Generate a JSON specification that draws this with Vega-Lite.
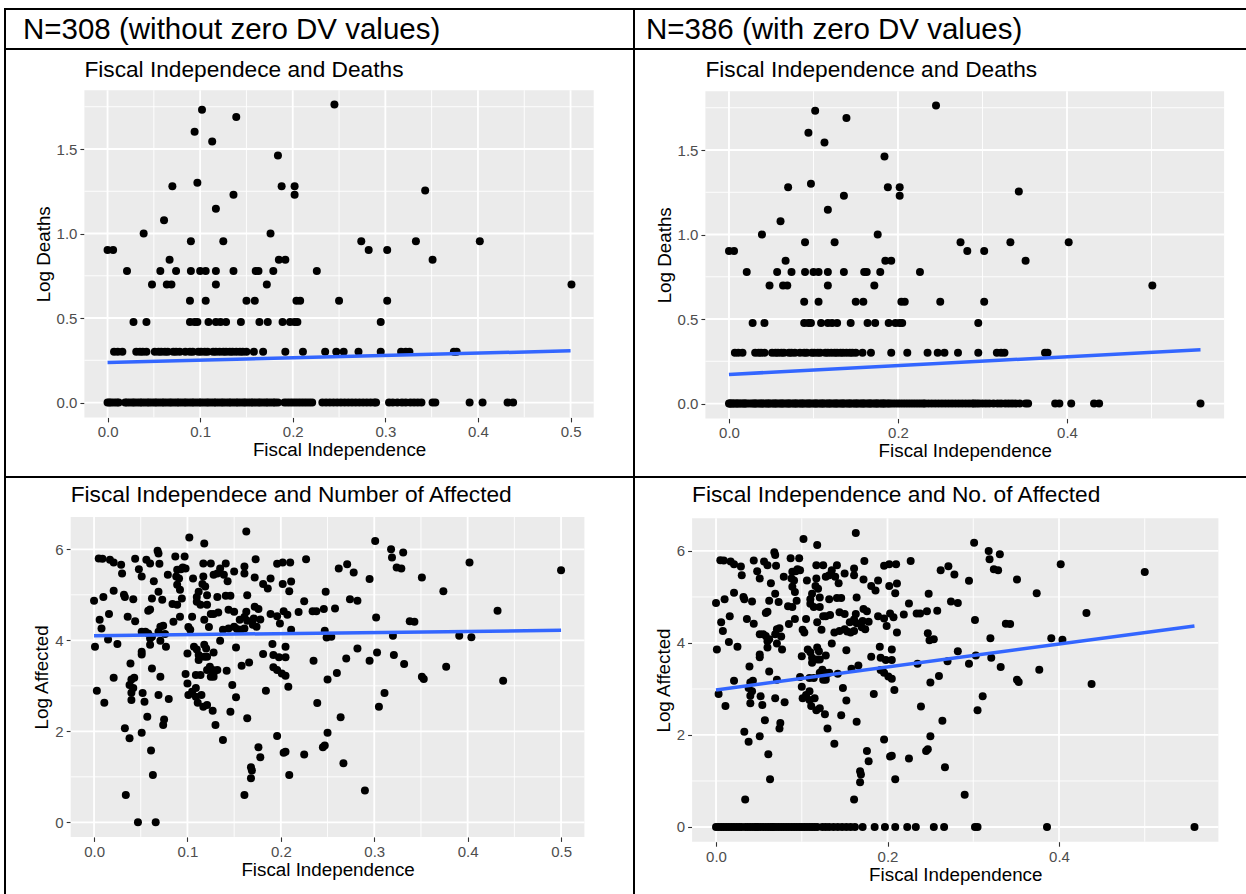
{
"$schema": "https://vega.github.io/schema/vega-lite/v6.json",
"padding": {"left": 4, "top": 8, "right": -3, "bottom": -4},
"background": "white",
"columns": 2,
"spacing": 0,
"bounds": "flush",
"datasets": {
"deaths": [
{"x":0.102,"y":1.732},{"x":0.139,"y":1.690},{"x":0.094,"y":1.602},{"x":0.113,"y":1.544},{"x":0.245,"y":1.763},{"x":0.184,"y":1.462},{"x":0.097,"y":1.301},{"x":0.070,"y":1.279},{"x":0.188,"y":1.279},{"x":0.202,"y":1.279},{"x":0.202,"y":1.230},{"x":0.136,"y":1.230},{"x":0.117,"y":1.146},{"x":0.061,"y":1.079},{"x":0.039,"y":1.0},{"x":0.176,"y":1.0},{"x":0.090,"y":0.954},{"x":0.125,"y":0.954},{"x":0.0,"y":0.903},{"x":0.006,"y":0.903},{"x":0.067,"y":0.845},{"x":0.185,"y":0.845},{"x":0.192,"y":0.845},{"x":0.343,"y":1.255},{"x":0.274,"y":0.954},{"x":0.282,"y":0.903},{"x":0.302,"y":0.903},{"x":0.333,"y":0.954},{"x":0.402,"y":0.954},{"x":0.351,"y":0.845},{"x":0.501,"y":0.699},
{"x":0.021,"y":0.778},{"x":0.057,"y":0.778},{"x":0.074,"y":0.778},{"x":0.090,"y":0.778},{"x":0.100,"y":0.778},{"x":0.106,"y":0.778},{"x":0.117,"y":0.778},{"x":0.136,"y":0.778},{"x":0.160,"y":0.778},{"x":0.163,"y":0.778},{"x":0.179,"y":0.778},{"x":0.226,"y":0.778},
{"x":0.048,"y":0.699},{"x":0.064,"y":0.699},{"x":0.069,"y":0.699},{"x":0.117,"y":0.699},{"x":0.172,"y":0.699},
{"x":0.089,"y":0.602},{"x":0.106,"y":0.602},{"x":0.150,"y":0.602},{"x":0.159,"y":0.602},{"x":0.204,"y":0.602},{"x":0.208,"y":0.602},{"x":0.250,"y":0.602},{"x":0.302,"y":0.602},
{"x":0.028,"y":0.477},{"x":0.042,"y":0.477},{"x":0.089,"y":0.477},{"x":0.094,"y":0.477},{"x":0.097,"y":0.477},{"x":0.109,"y":0.477},{"x":0.117,"y":0.477},{"x":0.122,"y":0.477},{"x":0.128,"y":0.477},{"x":0.144,"y":0.477},{"x":0.164,"y":0.477},{"x":0.173,"y":0.477},{"x":0.189,"y":0.477},{"x":0.197,"y":0.477},{"x":0.202,"y":0.477},{"x":0.205,"y":0.477},{"x":0.295,"y":0.477},
{"x":0.007,"y":0.301},{"x":0.011,"y":0.301},{"x":0.016,"y":0.301},{"x":0.031,"y":0.301},{"x":0.035,"y":0.301},{"x":0.038,"y":0.301},{"x":0.042,"y":0.301},{"x":0.051,"y":0.301},{"x":0.055,"y":0.301},{"x":0.058,"y":0.301},{"x":0.062,"y":0.301},{"x":0.065,"y":0.301},{"x":0.071,"y":0.301},{"x":0.074,"y":0.301},{"x":0.078,"y":0.301},{"x":0.084,"y":0.301},{"x":0.089,"y":0.301},{"x":0.092,"y":0.301},{"x":0.098,"y":0.301},{"x":0.101,"y":0.301},{"x":0.105,"y":0.301},{"x":0.108,"y":0.301},{"x":0.114,"y":0.301},{"x":0.117,"y":0.301},{"x":0.121,"y":0.301},{"x":0.125,"y":0.301},{"x":0.128,"y":0.301},{"x":0.132,"y":0.301},{"x":0.135,"y":0.301},{"x":0.139,"y":0.301},{"x":0.143,"y":0.301},{"x":0.146,"y":0.301},{"x":0.150,"y":0.301},{"x":0.158,"y":0.301},{"x":0.168,"y":0.301},{"x":0.192,"y":0.301},{"x":0.211,"y":0.301},{"x":0.235,"y":0.301},{"x":0.247,"y":0.301},{"x":0.255,"y":0.301},{"x":0.271,"y":0.301},{"x":0.295,"y":0.301},{"x":0.317,"y":0.301},{"x":0.322,"y":0.301},{"x":0.326,"y":0.301},{"x":0.374,"y":0.301},{"x":0.377,"y":0.301},
{"x":0.000,"y":0},{"x":0.002,"y":0},{"x":0.004,"y":0},{"x":0.007,"y":0},{"x":0.010,"y":0},{"x":0.012,"y":0},
{"x":0.019,"y":0},{"x":0.021,"y":0},{"x":0.024,"y":0},{"x":0.027,"y":0},{"x":0.029,"y":0},{"x":0.032,"y":0},{"x":0.035,"y":0},{"x":0.037,"y":0},{"x":0.040,"y":0},{"x":0.043,"y":0},{"x":0.045,"y":0},{"x":0.048,"y":0},{"x":0.051,"y":0},{"x":0.053,"y":0},{"x":0.056,"y":0},{"x":0.059,"y":0},{"x":0.061,"y":0},{"x":0.064,"y":0},{"x":0.067,"y":0},{"x":0.069,"y":0},{"x":0.072,"y":0},{"x":0.075,"y":0},{"x":0.077,"y":0},{"x":0.080,"y":0},{"x":0.083,"y":0},{"x":0.085,"y":0},{"x":0.088,"y":0},{"x":0.091,"y":0},{"x":0.093,"y":0},{"x":0.096,"y":0},{"x":0.099,"y":0},{"x":0.101,"y":0},{"x":0.104,"y":0},{"x":0.107,"y":0},{"x":0.109,"y":0},{"x":0.112,"y":0},{"x":0.115,"y":0},{"x":0.117,"y":0},{"x":0.120,"y":0},{"x":0.123,"y":0},{"x":0.125,"y":0},{"x":0.128,"y":0},{"x":0.131,"y":0},{"x":0.133,"y":0},{"x":0.136,"y":0},{"x":0.139,"y":0},{"x":0.141,"y":0},{"x":0.144,"y":0},{"x":0.147,"y":0},{"x":0.149,"y":0},{"x":0.152,"y":0},{"x":0.155,"y":0},{"x":0.157,"y":0},{"x":0.160,"y":0},{"x":0.163,"y":0},{"x":0.165,"y":0},{"x":0.168,"y":0},{"x":0.171,"y":0},{"x":0.173,"y":0},{"x":0.176,"y":0},{"x":0.179,"y":0},{"x":0.181,"y":0},{"x":0.184,"y":0},
{"x":0.191,"y":0},{"x":0.194,"y":0},{"x":0.197,"y":0},{"x":0.200,"y":0},{"x":0.203,"y":0},{"x":0.206,"y":0},{"x":0.209,"y":0},{"x":0.212,"y":0},{"x":0.215,"y":0},{"x":0.218,"y":0},{"x":0.221,"y":0},
{"x":0.232,"y":0},{"x":0.236,"y":0},{"x":0.240,"y":0},{"x":0.244,"y":0},{"x":0.248,"y":0},{"x":0.252,"y":0},{"x":0.256,"y":0},{"x":0.260,"y":0},{"x":0.264,"y":0},{"x":0.268,"y":0},{"x":0.272,"y":0},{"x":0.276,"y":0},{"x":0.280,"y":0},{"x":0.284,"y":0},{"x":0.288,"y":0},{"x":0.290,"y":0},
{"x":0.304,"y":0},{"x":0.308,"y":0},{"x":0.313,"y":0},{"x":0.318,"y":0},{"x":0.322,"y":0},{"x":0.327,"y":0},{"x":0.331,"y":0},{"x":0.335,"y":0},{"x":0.339,"y":0},
{"x":0.351,"y":0},{"x":0.354,"y":0},{"x":0.391,"y":0},{"x":0.405,"y":0},{"x":0.432,"y":0},{"x":0.438,"y":0},
{"x":0.001,"y":0,"r":1},{"x":0.005,"y":0,"r":1},{"x":0.009,"y":0,"r":1},{"x":0.014,"y":0,"r":1},{"x":0.016,"y":0,"r":1},{"x":0.018,"y":0,"r":1},{"x":0.031,"y":0,"r":1},{"x":0.039,"y":0,"r":1},{"x":0.047,"y":0,"r":1},{"x":0.055,"y":0,"r":1},{"x":0.063,"y":0,"r":1},{"x":0.071,"y":0,"r":1},{"x":0.079,"y":0,"r":1},{"x":0.087,"y":0,"r":1},{"x":0.095,"y":0,"r":1},{"x":0.103,"y":0,"r":1},{"x":0.111,"y":0,"r":1},{"x":0.119,"y":0,"r":1},{"x":0.127,"y":0,"r":1},{"x":0.135,"y":0,"r":1},{"x":0.143,"y":0,"r":1},{"x":0.151,"y":0,"r":1},{"x":0.159,"y":0,"r":1},{"x":0.167,"y":0,"r":1},{"x":0.175,"y":0,"r":1},{"x":0.183,"y":0,"r":1},{"x":0.187,"y":0,"r":1},{"x":0.189,"y":0,"r":1},{"x":0.224,"y":0,"r":1},{"x":0.227,"y":0,"r":1},{"x":0.230,"y":0,"r":1},{"x":0.293,"y":0,"r":1},{"x":0.296,"y":0,"r":1},{"x":0.300,"y":0,"r":1},{"x":0.344,"y":0,"r":1},{"x":0.386,"y":0,"r":1},{"x":0.558,"y":0,"r":1}
],
"affected": [
{"x":0.163,"y":6.39},{"x":0.102,"y":6.26},{"x":0.118,"y":6.13},{"x":0.068,"y":5.97},{"x":0.069,"y":5.91},{"x":0.005,"y":5.80},{"x":0.009,"y":5.79},{"x":0.044,"y":5.79},{"x":0.017,"y":5.77},{"x":0.021,"y":5.71},{"x":0.029,"y":5.66},{"x":0.030,"y":5.47},{"x":0.056,"y":5.77},{"x":0.060,"y":5.69},{"x":0.048,"y":5.56},{"x":0.051,"y":5.40},{"x":0.070,"y":5.68},{"x":0.087,"y":5.84},{"x":0.097,"y":5.84},{"x":0.064,"y":5.30},{"x":0.079,"y":5.44},{"x":0.089,"y":5.55},{"x":0.093,"y":5.56},{"x":0.095,"y":5.60},{"x":0.098,"y":5.58},{"x":0.088,"y":5.40},{"x":0.091,"y":5.36},{"x":0.089,"y":5.22},{"x":0.092,"y":5.11},{"x":0.106,"y":5.36},{"x":0.117,"y":5.69},{"x":0.125,"y":5.69},{"x":0.117,"y":5.40},{"x":0.119,"y":5.18},{"x":0.116,"y":5.24},{"x":0.128,"y":5.44},{"x":0.132,"y":5.47},{"x":0.135,"y":5.58},{"x":0.141,"y":5.69},{"x":0.143,"y":5.30},{"x":0.139,"y":5.44},{"x":0.150,"y":5.51},{"x":0.161,"y":5.62},{"x":0.161,"y":5.47},{"x":0.173,"y":5.78},{"x":0.172,"y":5.38},{"x":0.181,"y":5.24},{"x":0.186,"y":5.14},{"x":0.189,"y":5.36},{"x":0.196,"y":5.68},{"x":0.202,"y":5.71},{"x":0.210,"y":5.71},{"x":0.202,"y":5.24},{"x":0.211,"y":5.29},{"x":0.227,"y":5.78},{"x":0.225,"y":4.86},{"x":0.209,"y":5.08},{"x":0.248,"y":5.07},
{"x":0.000,"y":4.87},{"x":0.010,"y":4.95},{"x":0.021,"y":5.09},{"x":0.032,"y":5.00},{"x":0.033,"y":4.95},{"x":0.042,"y":4.90},{"x":0.062,"y":4.92},{"x":0.073,"y":4.89},{"x":0.060,"y":4.68},{"x":0.058,"y":4.65},{"x":0.069,"y":5.07},{"x":0.084,"y":4.80},{"x":0.089,"y":4.78},{"x":0.094,"y":4.92},{"x":0.110,"y":4.95},{"x":0.112,"y":5.07},{"x":0.121,"y":4.99},{"x":0.121,"y":4.78},{"x":0.132,"y":4.95},{"x":0.141,"y":4.98},{"x":0.146,"y":4.98},{"x":0.164,"y":4.99},{"x":0.110,"y":4.85},{"x":0.114,"y":4.78},{"x":0.125,"y":4.58},{"x":0.128,"y":4.58},{"x":0.133,"y":4.61},{"x":0.144,"y":4.67},{"x":0.150,"y":4.63},{"x":0.163,"y":4.63},{"x":0.172,"y":4.74},{"x":0.176,"y":4.69},{"x":0.161,"y":4.51},{"x":0.164,"y":4.43},{"x":0.171,"y":4.48},{"x":0.178,"y":4.46},{"x":0.189,"y":4.58},{"x":0.196,"y":4.53},{"x":0.203,"y":4.64},{"x":0.207,"y":4.56},{"x":0.199,"y":4.37},{"x":0.219,"y":4.62},{"x":0.234,"y":4.64},{"x":0.238,"y":4.64},{"x":0.246,"y":4.69},{"x":0.211,"y":4.23},
{"x":0.016,"y":4.58},{"x":0.006,"y":4.45},{"x":0.008,"y":4.26},{"x":0.036,"y":4.52},{"x":0.044,"y":4.42},{"x":0.051,"y":4.19},{"x":0.055,"y":4.19},{"x":0.058,"y":4.15},{"x":0.071,"y":4.30},{"x":0.074,"y":4.32},{"x":0.069,"y":4.19},{"x":0.076,"y":4.14},{"x":0.062,"y":4.08},{"x":0.085,"y":4.41},{"x":0.092,"y":4.52},{"x":0.101,"y":4.29},{"x":0.103,"y":4.23},{"x":0.105,"y":4.52},{"x":0.118,"y":4.45},{"x":0.123,"y":4.29},{"x":0.138,"y":4.23},{"x":0.144,"y":4.26},{"x":0.150,"y":4.30},{"x":0.153,"y":4.25},{"x":0.157,"y":4.23},{"x":0.161,"y":4.26},{"x":0.170,"y":4.34},{"x":0.174,"y":4.30},{"x":0.156,"y":4.45},
{"x":0.001,"y":3.86},{"x":0.015,"y":4.02},{"x":0.025,"y":3.92},{"x":0.060,"y":3.90},{"x":0.060,"y":4.04},{"x":0.071,"y":3.99},{"x":0.077,"y":3.86},{"x":0.100,"y":3.71},{"x":0.107,"y":3.86},{"x":0.110,"y":3.80},{"x":0.118,"y":3.90},{"x":0.120,"y":3.82},{"x":0.112,"y":3.68},{"x":0.112,"y":3.57},{"x":0.118,"y":3.64},{"x":0.121,"y":3.64},{"x":0.128,"y":3.73},{"x":0.135,"y":3.99},{"x":0.152,"y":3.84},{"x":0.191,"y":3.92},{"x":0.192,"y":3.68},{"x":0.198,"y":3.63},{"x":0.205,"y":3.86},{"x":0.205,"y":3.63},{"x":0.181,"y":3.70},{"x":0.235,"y":3.55},{"x":0.249,"y":4.06},
{"x":0.039,"y":3.49},{"x":0.051,"y":3.75},{"x":0.051,"y":3.69},{"x":0.062,"y":3.38},{"x":0.021,"y":3.18},{"x":0.040,"y":3.14},{"x":0.043,"y":3.18},{"x":0.038,"y":3.02},{"x":0.042,"y":2.95},{"x":0.040,"y":2.85},{"x":0.040,"y":2.69},{"x":0.052,"y":2.84},{"x":0.054,"y":2.65},{"x":0.071,"y":3.20},{"x":0.069,"y":2.80},{"x":0.080,"y":2.71},{"x":0.003,"y":2.89},{"x":0.011,"y":2.63},{"x":0.057,"y":2.32},{"x":0.075,"y":2.26},{"x":0.074,"y":2.14},{"x":0.033,"y":2.07},{"x":0.038,"y":1.85},{"x":0.051,"y":1.97},{"x":0.061,"y":1.58},{"x":0.063,"y":1.04},{"x":0.034,"y":0.60},{"x":0.047,"y":0.0},{"x":0.066,"y":0.0},
{"x":0.098,"y":3.26},{"x":0.100,"y":3.05},{"x":0.101,"y":2.80},{"x":0.105,"y":2.87},{"x":0.109,"y":2.95},{"x":0.109,"y":2.76},{"x":0.111,"y":2.63},{"x":0.115,"y":2.80},{"x":0.117,"y":2.54},{"x":0.121,"y":2.58},{"x":0.109,"y":3.24},{"x":0.114,"y":3.24},{"x":0.121,"y":3.35},{"x":0.124,"y":3.42},{"x":0.127,"y":3.35},{"x":0.128,"y":3.28},{"x":0.132,"y":3.35},{"x":0.128,"y":3.20},{"x":0.125,"y":3.20},{"x":0.142,"y":3.33},{"x":0.148,"y":3.02},{"x":0.152,"y":2.75},{"x":0.146,"y":2.43},{"x":0.127,"y":2.45},{"x":0.130,"y":2.14},{"x":0.138,"y":1.81},{"x":0.164,"y":2.29},{"x":0.158,"y":3.44},{"x":0.166,"y":3.51},{"x":0.184,"y":2.89},{"x":0.192,"y":3.41},{"x":0.196,"y":3.35},{"x":0.201,"y":3.27},{"x":0.205,"y":3.22},{"x":0.208,"y":2.98},{"x":0.196,"y":1.90},{"x":0.203,"y":1.53},{"x":0.205,"y":1.55},{"x":0.209,"y":1.04},{"x":0.176,"y":1.65},{"x":0.178,"y":1.43},{"x":0.168,"y":1.21},{"x":0.169,"y":1.14},{"x":0.168,"y":0.97},{"x":0.161,"y":0.60},{"x":0.225,"y":1.49},{"x":0.245,"y":1.65},{"x":0.247,"y":1.69},{"x":0.250,"y":1.97},{"x":0.239,"y":2.62},{"x":0.250,"y":3.14},
{"x":0.301,"y":6.18},{"x":0.318,"y":6.00},{"x":0.319,"y":5.82},{"x":0.331,"y":5.93},{"x":0.324,"y":5.60},{"x":0.329,"y":5.58},{"x":0.402,"y":5.71},{"x":0.500,"y":5.54},{"x":0.262,"y":5.58},{"x":0.271,"y":5.67},{"x":0.278,"y":5.49},{"x":0.295,"y":5.35},{"x":0.351,"y":5.38},{"x":0.374,"y":5.08},{"x":0.274,"y":4.90},{"x":0.282,"y":4.87},{"x":0.258,"y":4.70},{"x":0.302,"y":4.50},{"x":0.338,"y":4.42},{"x":0.343,"y":4.41},{"x":0.432,"y":4.65},{"x":0.247,"y":4.21},{"x":0.254,"y":4.08},{"x":0.320,"y":4.10},{"x":0.391,"y":4.10},{"x":0.404,"y":4.07},{"x":0.282,"y":3.82},{"x":0.270,"y":3.60},{"x":0.303,"y":3.73},{"x":0.295,"y":3.55},{"x":0.321,"y":3.68},{"x":0.332,"y":3.48},{"x":0.377,"y":3.42},{"x":0.260,"y":3.28},{"x":0.351,"y":3.20},{"x":0.353,"y":3.15},{"x":0.438,"y":3.11},{"x":0.311,"y":2.84},{"x":0.305,"y":2.54},{"x":0.264,"y":2.31},{"x":0.267,"y":1.30},{"x":0.290,"y":0.70},
{"x":0.000,"y":0,"r":1},{"x":0.003,"y":0,"r":1},{"x":0.006,"y":0,"r":1},{"x":0.009,"y":0,"r":1},{"x":0.012,"y":0,"r":1},{"x":0.015,"y":0,"r":1},{"x":0.018,"y":0,"r":1},{"x":0.021,"y":0,"r":1},{"x":0.024,"y":0,"r":1},{"x":0.027,"y":0,"r":1},{"x":0.030,"y":0,"r":1},{"x":0.034,"y":0,"r":1},{"x":0.037,"y":0,"r":1},{"x":0.040,"y":0,"r":1},{"x":0.043,"y":0,"r":1},{"x":0.046,"y":0,"r":1},{"x":0.049,"y":0,"r":1},{"x":0.052,"y":0,"r":1},{"x":0.055,"y":0,"r":1},{"x":0.058,"y":0,"r":1},{"x":0.061,"y":0,"r":1},{"x":0.064,"y":0,"r":1},{"x":0.067,"y":0,"r":1},{"x":0.070,"y":0,"r":1},{"x":0.073,"y":0,"r":1},{"x":0.076,"y":0,"r":1},{"x":0.079,"y":0,"r":1},{"x":0.082,"y":0,"r":1},{"x":0.085,"y":0,"r":1},{"x":0.088,"y":0,"r":1},{"x":0.091,"y":0,"r":1},{"x":0.094,"y":0,"r":1},{"x":0.097,"y":0,"r":1},{"x":0.100,"y":0,"r":1},{"x":0.103,"y":0,"r":1},{"x":0.106,"y":0,"r":1},{"x":0.109,"y":0,"r":1},{"x":0.112,"y":0,"r":1},{"x":0.115,"y":0,"r":1},{"x":0.118,"y":0,"r":1},{"x":0.124,"y":0,"r":1},{"x":0.128,"y":0,"r":1},{"x":0.132,"y":0,"r":1},{"x":0.137,"y":0,"r":1},{"x":0.142,"y":0,"r":1},{"x":0.147,"y":0,"r":1},{"x":0.152,"y":0,"r":1},{"x":0.157,"y":0,"r":1},{"x":0.162,"y":0,"r":1},{"x":0.171,"y":0,"r":1},{"x":0.185,"y":0,"r":1},{"x":0.197,"y":0,"r":1},{"x":0.209,"y":0,"r":1},{"x":0.223,"y":0,"r":1},{"x":0.233,"y":0,"r":1},{"x":0.254,"y":0,"r":1},{"x":0.266,"y":0,"r":1},{"x":0.302,"y":0,"r":1},{"x":0.305,"y":0,"r":1},{"x":0.386,"y":0,"r":1},{"x":0.558,"y":0,"r":1}
]
},
"concat": [
{"width": 629, "height": 40, "data": {"values": []}, "mark": {"type": "point"},
 "encoding": {"x": {"field": "a", "type": "quantitative", "axis": null, "scale": {"domain": [0, 1]}}, "y": {"field": "b", "type": "quantitative", "axis": null, "scale": {"domain": [0, 1]}}},
 "title": {"text": "N=308 (without zero DV values)", "fontSize": 29.5, "dx": 18, "offset": -36}},
{"width": 614, "height": 40, "data": {"values": []}, "mark": {"type": "point"},
 "encoding": {"x": {"field": "a", "type": "quantitative", "axis": null, "scale": {"domain": [0, 1]}}, "y": {"field": "b", "type": "quantitative", "axis": null, "scale": {"domain": [0, 1]}}},
 "title": {"text": "N=386 (with zero DV values)", "fontSize": 29.5, "dx": 12, "offset": -36}},
{"width": 629, "height": 428,
 "title": {"text": "Fiscal Independece and Deaths", "dx": 79.4, "offset": -33},
 "layer": [
  {"data": {"values": [{}]}, "mark": {"type": "rect", "color": "#EBEBEB"},
   "encoding": {"x": {"datum": -0.025, "type": "quantitative", "scale": {"domain": [-0.025, 0.525], "range": [79.4, 588.7], "nice": false, "zero": false}, "axis": {"values": [0, 0.1, 0.2, 0.3, 0.4, 0.5], "format": ".1f", "title": "Fiscal Independence", "orient": "bottom", "offset": -59.6}}, "x2": {"datum": 0.525},
    "y": {"datum": -0.088, "type": "quantitative", "scale": {"domain": [-0.088, 1.848], "range": [368.4, 41.2], "nice": false, "zero": false}, "axis": {"values": [0, 0.5, 1, 1.5], "format": ".1f", "title": "Log Deaths", "orient": "left", "offset": -79.4}}, "y2": {"datum": 1.848}}},
  {"data": {"values": [{"v":0.05},{"v":0.15},{"v":0.25},{"v":0.35},{"v":0.45}]}, "mark": {"type": "rule", "color": "white", "strokeWidth": 0.9},
   "encoding": {"x": {"field": "v", "type": "quantitative", "scale": {"domain": [-0.025, 0.525], "range": [79.4, 588.7], "nice": false, "zero": false}, "axis": {"values": [0, 0.1, 0.2, 0.3, 0.4, 0.5], "format": ".1f", "title": "Fiscal Independence", "orient": "bottom", "offset": -59.6}},
    "y": {"datum": -0.088, "type": "quantitative", "scale": {"domain": [-0.088, 1.848], "range": [368.4, 41.2], "nice": false, "zero": false}, "axis": {"values": [0, 0.5, 1, 1.5], "format": ".1f", "title": "Log Deaths", "orient": "left", "offset": -79.4}}, "y2": {"datum": 1.848}}},
  {"data": {"values": [{"v":0},{"v":0.1},{"v":0.2},{"v":0.3},{"v":0.4},{"v":0.5}]}, "mark": {"type": "rule", "color": "white", "strokeWidth": 1.8},
   "encoding": {"x": {"field": "v", "type": "quantitative", "scale": {"domain": [-0.025, 0.525], "range": [79.4, 588.7], "nice": false, "zero": false}, "axis": {"values": [0, 0.1, 0.2, 0.3, 0.4, 0.5], "format": ".1f", "title": "Fiscal Independence", "orient": "bottom", "offset": -59.6}},
    "y": {"datum": -0.088, "type": "quantitative", "scale": {"domain": [-0.088, 1.848], "range": [368.4, 41.2], "nice": false, "zero": false}, "axis": {"values": [0, 0.5, 1, 1.5], "format": ".1f", "title": "Log Deaths", "orient": "left", "offset": -79.4}}, "y2": {"datum": 1.848}}},
  {"data": {"values": [{"v":0.25},{"v":0.75},{"v":1.25},{"v":1.75}]}, "mark": {"type": "rule", "color": "white", "strokeWidth": 0.9},
   "encoding": {"y": {"field": "v", "type": "quantitative", "scale": {"domain": [-0.088, 1.848], "range": [368.4, 41.2], "nice": false, "zero": false}, "axis": {"values": [0, 0.5, 1, 1.5], "format": ".1f", "title": "Log Deaths", "orient": "left", "offset": -79.4}},
    "x": {"datum": -0.025, "type": "quantitative", "scale": {"domain": [-0.025, 0.525], "range": [79.4, 588.7], "nice": false, "zero": false}, "axis": {"values": [0, 0.1, 0.2, 0.3, 0.4, 0.5], "format": ".1f", "title": "Fiscal Independence", "orient": "bottom", "offset": -59.6}}, "x2": {"datum": 0.525}}},
  {"data": {"values": [{"v":0},{"v":0.5},{"v":1},{"v":1.5}]}, "mark": {"type": "rule", "color": "white", "strokeWidth": 1.8},
   "encoding": {"y": {"field": "v", "type": "quantitative", "scale": {"domain": [-0.088, 1.848], "range": [368.4, 41.2], "nice": false, "zero": false}, "axis": {"values": [0, 0.5, 1, 1.5], "format": ".1f", "title": "Log Deaths", "orient": "left", "offset": -79.4}},
    "x": {"datum": -0.025, "type": "quantitative", "scale": {"domain": [-0.025, 0.525], "range": [79.4, 588.7], "nice": false, "zero": false}, "axis": {"values": [0, 0.1, 0.2, 0.3, 0.4, 0.5], "format": ".1f", "title": "Fiscal Independence", "orient": "bottom", "offset": -59.6}}, "x2": {"datum": 0.525}}},
  {"data": {"name": "deaths"}, "transform": [{"filter": "!datum.r"}], "mark": {"type": "circle", "size": 64, "color": "black", "opacity": 1},
   "encoding": {"x": {"field": "x", "type": "quantitative", "scale": {"domain": [-0.025, 0.525], "range": [79.4, 588.7], "nice": false, "zero": false}, "axis": {"values": [0, 0.1, 0.2, 0.3, 0.4, 0.5], "format": ".1f", "title": "Fiscal Independence", "orient": "bottom", "offset": -59.6}},
    "y": {"field": "y", "type": "quantitative", "scale": {"domain": [-0.088, 1.848], "range": [368.4, 41.2], "nice": false, "zero": false}, "axis": {"values": [0, 0.5, 1, 1.5], "format": ".1f", "title": "Log Deaths", "orient": "left", "offset": -79.4}}}},
  {"data": {"values": [{"x":0,"y":0.237},{"x":0.5,"y":0.306}]}, "mark": {"type": "line", "color": "#3366FF", "strokeWidth": 3.5},
   "encoding": {"x": {"field": "x", "type": "quantitative", "scale": {"domain": [-0.025, 0.525], "range": [79.4, 588.7], "nice": false, "zero": false}, "axis": {"values": [0, 0.1, 0.2, 0.3, 0.4, 0.5], "format": ".1f", "title": "Fiscal Independence", "orient": "bottom", "offset": -59.6}},
    "y": {"field": "y", "type": "quantitative", "scale": {"domain": [-0.088, 1.848], "range": [368.4, 41.2], "nice": false, "zero": false}, "axis": {"values": [0, 0.5, 1, 1.5], "format": ".1f", "title": "Log Deaths", "orient": "left", "offset": -79.4}}}}
 ]},
{"width": 614, "height": 428,
 "title": {"text": "Fiscal Independence and Deaths", "dx": 71.4, "offset": -33},
 "layer": [
  {"data": {"values": [{}]}, "mark": {"type": "rect", "color": "#EBEBEB"},
   "encoding": {"x": {"datum": -0.0279, "type": "quantitative", "scale": {"domain": [-0.0279, 0.5859], "range": [71.4, 590.1], "nice": false, "zero": false}, "axis": {"values": [0, 0.2, 0.4], "format": ".1f", "title": "Fiscal Independence", "orient": "bottom", "offset": -58.6}}, "x2": {"datum": 0.5859},
    "y": {"datum": -0.088, "type": "quantitative", "scale": {"domain": [-0.088, 1.848], "range": [369.4, 42.2], "nice": false, "zero": false}, "axis": {"values": [0, 0.5, 1, 1.5], "format": ".1f", "title": "Log Deaths", "orient": "left", "offset": -71.4}}, "y2": {"datum": 1.848}}},
  {"data": {"values": [{"v":0.1},{"v":0.3},{"v":0.5}]}, "mark": {"type": "rule", "color": "white", "strokeWidth": 0.9},
   "encoding": {"x": {"field": "v", "type": "quantitative", "scale": {"domain": [-0.0279, 0.5859], "range": [71.4, 590.1], "nice": false, "zero": false}, "axis": {"values": [0, 0.2, 0.4], "format": ".1f", "title": "Fiscal Independence", "orient": "bottom", "offset": -58.6}},
    "y": {"datum": -0.088, "type": "quantitative", "scale": {"domain": [-0.088, 1.848], "range": [369.4, 42.2], "nice": false, "zero": false}, "axis": {"values": [0, 0.5, 1, 1.5], "format": ".1f", "title": "Log Deaths", "orient": "left", "offset": -71.4}}, "y2": {"datum": 1.848}}},
  {"data": {"values": [{"v":0},{"v":0.2},{"v":0.4}]}, "mark": {"type": "rule", "color": "white", "strokeWidth": 1.8},
   "encoding": {"x": {"field": "v", "type": "quantitative", "scale": {"domain": [-0.0279, 0.5859], "range": [71.4, 590.1], "nice": false, "zero": false}, "axis": {"values": [0, 0.2, 0.4], "format": ".1f", "title": "Fiscal Independence", "orient": "bottom", "offset": -58.6}},
    "y": {"datum": -0.088, "type": "quantitative", "scale": {"domain": [-0.088, 1.848], "range": [369.4, 42.2], "nice": false, "zero": false}, "axis": {"values": [0, 0.5, 1, 1.5], "format": ".1f", "title": "Log Deaths", "orient": "left", "offset": -71.4}}, "y2": {"datum": 1.848}}},
  {"data": {"values": [{"v":0.25},{"v":0.75},{"v":1.25},{"v":1.75}]}, "mark": {"type": "rule", "color": "white", "strokeWidth": 0.9},
   "encoding": {"y": {"field": "v", "type": "quantitative", "scale": {"domain": [-0.088, 1.848], "range": [369.4, 42.2], "nice": false, "zero": false}, "axis": {"values": [0, 0.5, 1, 1.5], "format": ".1f", "title": "Log Deaths", "orient": "left", "offset": -71.4}},
    "x": {"datum": -0.0279, "type": "quantitative", "scale": {"domain": [-0.0279, 0.5859], "range": [71.4, 590.1], "nice": false, "zero": false}, "axis": {"values": [0, 0.2, 0.4], "format": ".1f", "title": "Fiscal Independence", "orient": "bottom", "offset": -58.6}}, "x2": {"datum": 0.5859}}},
  {"data": {"values": [{"v":0},{"v":0.5},{"v":1},{"v":1.5}]}, "mark": {"type": "rule", "color": "white", "strokeWidth": 1.8},
   "encoding": {"y": {"field": "v", "type": "quantitative", "scale": {"domain": [-0.088, 1.848], "range": [369.4, 42.2], "nice": false, "zero": false}, "axis": {"values": [0, 0.5, 1, 1.5], "format": ".1f", "title": "Log Deaths", "orient": "left", "offset": -71.4}},
    "x": {"datum": -0.0279, "type": "quantitative", "scale": {"domain": [-0.0279, 0.5859], "range": [71.4, 590.1], "nice": false, "zero": false}, "axis": {"values": [0, 0.2, 0.4], "format": ".1f", "title": "Fiscal Independence", "orient": "bottom", "offset": -58.6}}, "x2": {"datum": 0.5859}}},
  {"data": {"name": "deaths"}, "mark": {"type": "circle", "size": 64, "color": "black", "opacity": 1},
   "encoding": {"x": {"field": "x", "type": "quantitative", "scale": {"domain": [-0.0279, 0.5859], "range": [71.4, 590.1], "nice": false, "zero": false}, "axis": {"values": [0, 0.2, 0.4], "format": ".1f", "title": "Fiscal Independence", "orient": "bottom", "offset": -58.6}},
    "y": {"field": "y", "type": "quantitative", "scale": {"domain": [-0.088, 1.848], "range": [369.4, 42.2], "nice": false, "zero": false}, "axis": {"values": [0, 0.5, 1, 1.5], "format": ".1f", "title": "Log Deaths", "orient": "left", "offset": -71.4}}}},
  {"data": {"values": [{"x":0,"y":0.172},{"x":0.558,"y":0.318}]}, "mark": {"type": "line", "color": "#3366FF", "strokeWidth": 3.5},
   "encoding": {"x": {"field": "x", "type": "quantitative", "scale": {"domain": [-0.0279, 0.5859], "range": [71.4, 590.1], "nice": false, "zero": false}, "axis": {"values": [0, 0.2, 0.4], "format": ".1f", "title": "Fiscal Independence", "orient": "bottom", "offset": -58.6}},
    "y": {"field": "y", "type": "quantitative", "scale": {"domain": [-0.088, 1.848], "range": [369.4, 42.2], "nice": false, "zero": false}, "axis": {"values": [0, 0.5, 1, 1.5], "format": ".1f", "title": "Log Deaths", "orient": "left", "offset": -71.4}}}}
 ]},
{"width": 629, "height": 420,
 "title": {"text": "Fiscal Independece and Number of Affected", "dx": 65.7, "offset": -30},
 "layer": [
  {"data": {"values": [{}]}, "mark": {"type": "rect", "color": "#EBEBEB"},
   "encoding": {"x": {"datum": -0.025, "type": "quantitative", "scale": {"domain": [-0.025, 0.525], "range": [65.7, 579.4], "nice": false, "zero": false}, "axis": {"values": [0, 0.1, 0.2, 0.3, 0.4, 0.5], "format": ".1f", "title": "Fiscal Independence", "orient": "bottom", "offset": -60.1}}, "x2": {"datum": 0.525},
    "y": {"datum": -0.32, "type": "quantitative", "scale": {"domain": [-0.32, 6.71], "range": [359.9, 40.0], "nice": false, "zero": false}, "axis": {"values": [0, 2, 4, 6], "format": "d", "title": "Log Affected", "orient": "left", "offset": -65.7}}, "y2": {"datum": 6.71}}},
  {"data": {"values": [{"v":0.05},{"v":0.15},{"v":0.25},{"v":0.35},{"v":0.45}]}, "mark": {"type": "rule", "color": "white", "strokeWidth": 0.9},
   "encoding": {"x": {"field": "v", "type": "quantitative", "scale": {"domain": [-0.025, 0.525], "range": [65.7, 579.4], "nice": false, "zero": false}, "axis": {"values": [0, 0.1, 0.2, 0.3, 0.4, 0.5], "format": ".1f", "title": "Fiscal Independence", "orient": "bottom", "offset": -60.1}},
    "y": {"datum": -0.32, "type": "quantitative", "scale": {"domain": [-0.32, 6.71], "range": [359.9, 40.0], "nice": false, "zero": false}, "axis": {"values": [0, 2, 4, 6], "format": "d", "title": "Log Affected", "orient": "left", "offset": -65.7}}, "y2": {"datum": 6.71}}},
  {"data": {"values": [{"v":0},{"v":0.1},{"v":0.2},{"v":0.3},{"v":0.4},{"v":0.5}]}, "mark": {"type": "rule", "color": "white", "strokeWidth": 1.8},
   "encoding": {"x": {"field": "v", "type": "quantitative", "scale": {"domain": [-0.025, 0.525], "range": [65.7, 579.4], "nice": false, "zero": false}, "axis": {"values": [0, 0.1, 0.2, 0.3, 0.4, 0.5], "format": ".1f", "title": "Fiscal Independence", "orient": "bottom", "offset": -60.1}},
    "y": {"datum": -0.32, "type": "quantitative", "scale": {"domain": [-0.32, 6.71], "range": [359.9, 40.0], "nice": false, "zero": false}, "axis": {"values": [0, 2, 4, 6], "format": "d", "title": "Log Affected", "orient": "left", "offset": -65.7}}, "y2": {"datum": 6.71}}},
  {"data": {"values": [{"v":1},{"v":3},{"v":5}]}, "mark": {"type": "rule", "color": "white", "strokeWidth": 0.9},
   "encoding": {"y": {"field": "v", "type": "quantitative", "scale": {"domain": [-0.32, 6.71], "range": [359.9, 40.0], "nice": false, "zero": false}, "axis": {"values": [0, 2, 4, 6], "format": "d", "title": "Log Affected", "orient": "left", "offset": -65.7}},
    "x": {"datum": -0.025, "type": "quantitative", "scale": {"domain": [-0.025, 0.525], "range": [65.7, 579.4], "nice": false, "zero": false}, "axis": {"values": [0, 0.1, 0.2, 0.3, 0.4, 0.5], "format": ".1f", "title": "Fiscal Independence", "orient": "bottom", "offset": -60.1}}, "x2": {"datum": 0.525}}},
  {"data": {"values": [{"v":0},{"v":2},{"v":4},{"v":6}]}, "mark": {"type": "rule", "color": "white", "strokeWidth": 1.8},
   "encoding": {"y": {"field": "v", "type": "quantitative", "scale": {"domain": [-0.32, 6.71], "range": [359.9, 40.0], "nice": false, "zero": false}, "axis": {"values": [0, 2, 4, 6], "format": "d", "title": "Log Affected", "orient": "left", "offset": -65.7}},
    "x": {"datum": -0.025, "type": "quantitative", "scale": {"domain": [-0.025, 0.525], "range": [65.7, 579.4], "nice": false, "zero": false}, "axis": {"values": [0, 0.1, 0.2, 0.3, 0.4, 0.5], "format": ".1f", "title": "Fiscal Independence", "orient": "bottom", "offset": -60.1}}, "x2": {"datum": 0.525}}},
  {"data": {"name": "affected"}, "transform": [{"filter": "!datum.r"}], "mark": {"type": "circle", "size": 64, "color": "black", "opacity": 1},
   "encoding": {"x": {"field": "x", "type": "quantitative", "scale": {"domain": [-0.025, 0.525], "range": [65.7, 579.4], "nice": false, "zero": false}, "axis": {"values": [0, 0.1, 0.2, 0.3, 0.4, 0.5], "format": ".1f", "title": "Fiscal Independence", "orient": "bottom", "offset": -60.1}},
    "y": {"field": "y", "type": "quantitative", "scale": {"domain": [-0.32, 6.71], "range": [359.9, 40.0], "nice": false, "zero": false}, "axis": {"values": [0, 2, 4, 6], "format": "d", "title": "Log Affected", "orient": "left", "offset": -65.7}}}},
  {"data": {"values": [{"x":0,"y":4.10},{"x":0.5,"y":4.22}]}, "mark": {"type": "line", "color": "#3366FF", "strokeWidth": 3.5},
   "encoding": {"x": {"field": "x", "type": "quantitative", "scale": {"domain": [-0.025, 0.525], "range": [65.7, 579.4], "nice": false, "zero": false}, "axis": {"values": [0, 0.1, 0.2, 0.3, 0.4, 0.5], "format": ".1f", "title": "Fiscal Independence", "orient": "bottom", "offset": -60.1}},
    "y": {"field": "y", "type": "quantitative", "scale": {"domain": [-0.32, 6.71], "range": [359.9, 40.0], "nice": false, "zero": false}, "axis": {"values": [0, 2, 4, 6], "format": "d", "title": "Log Affected", "orient": "left", "offset": -65.7}}}}
 ]},
{"width": 614, "height": 420,
 "title": {"text": "Fiscal Independence and No. of Affected", "dx": 58.1, "offset": -30},
 "layer": [
  {"data": {"values": [{}]}, "mark": {"type": "rect", "color": "#EBEBEB"},
   "encoding": {"x": {"datum": -0.0279, "type": "quantitative", "scale": {"domain": [-0.0279, 0.5859], "range": [58.1, 584.4], "nice": false, "zero": false}, "axis": {"values": [0, 0.2, 0.4], "format": ".1f", "title": "Fiscal Independence", "orient": "bottom", "offset": -55.3}}, "x2": {"datum": 0.5859},
    "y": {"datum": -0.32, "type": "quantitative", "scale": {"domain": [-0.32, 6.71], "range": [364.7, 41.3], "nice": false, "zero": false}, "axis": {"values": [0, 2, 4, 6], "format": "d", "title": "Log Affected", "orient": "left", "offset": -58.1}}, "y2": {"datum": 6.71}}},
  {"data": {"values": [{"v":0.1},{"v":0.3},{"v":0.5}]}, "mark": {"type": "rule", "color": "white", "strokeWidth": 0.9},
   "encoding": {"x": {"field": "v", "type": "quantitative", "scale": {"domain": [-0.0279, 0.5859], "range": [58.1, 584.4], "nice": false, "zero": false}, "axis": {"values": [0, 0.2, 0.4], "format": ".1f", "title": "Fiscal Independence", "orient": "bottom", "offset": -55.3}},
    "y": {"datum": -0.32, "type": "quantitative", "scale": {"domain": [-0.32, 6.71], "range": [364.7, 41.3], "nice": false, "zero": false}, "axis": {"values": [0, 2, 4, 6], "format": "d", "title": "Log Affected", "orient": "left", "offset": -58.1}}, "y2": {"datum": 6.71}}},
  {"data": {"values": [{"v":0},{"v":0.2},{"v":0.4}]}, "mark": {"type": "rule", "color": "white", "strokeWidth": 1.8},
   "encoding": {"x": {"field": "v", "type": "quantitative", "scale": {"domain": [-0.0279, 0.5859], "range": [58.1, 584.4], "nice": false, "zero": false}, "axis": {"values": [0, 0.2, 0.4], "format": ".1f", "title": "Fiscal Independence", "orient": "bottom", "offset": -55.3}},
    "y": {"datum": -0.32, "type": "quantitative", "scale": {"domain": [-0.32, 6.71], "range": [364.7, 41.3], "nice": false, "zero": false}, "axis": {"values": [0, 2, 4, 6], "format": "d", "title": "Log Affected", "orient": "left", "offset": -58.1}}, "y2": {"datum": 6.71}}},
  {"data": {"values": [{"v":1},{"v":3},{"v":5}]}, "mark": {"type": "rule", "color": "white", "strokeWidth": 0.9},
   "encoding": {"y": {"field": "v", "type": "quantitative", "scale": {"domain": [-0.32, 6.71], "range": [364.7, 41.3], "nice": false, "zero": false}, "axis": {"values": [0, 2, 4, 6], "format": "d", "title": "Log Affected", "orient": "left", "offset": -58.1}},
    "x": {"datum": -0.0279, "type": "quantitative", "scale": {"domain": [-0.0279, 0.5859], "range": [58.1, 584.4], "nice": false, "zero": false}, "axis": {"values": [0, 0.2, 0.4], "format": ".1f", "title": "Fiscal Independence", "orient": "bottom", "offset": -55.3}}, "x2": {"datum": 0.5859}}},
  {"data": {"values": [{"v":0},{"v":2},{"v":4},{"v":6}]}, "mark": {"type": "rule", "color": "white", "strokeWidth": 1.8},
   "encoding": {"y": {"field": "v", "type": "quantitative", "scale": {"domain": [-0.32, 6.71], "range": [364.7, 41.3], "nice": false, "zero": false}, "axis": {"values": [0, 2, 4, 6], "format": "d", "title": "Log Affected", "orient": "left", "offset": -58.1}},
    "x": {"datum": -0.0279, "type": "quantitative", "scale": {"domain": [-0.0279, 0.5859], "range": [58.1, 584.4], "nice": false, "zero": false}, "axis": {"values": [0, 0.2, 0.4], "format": ".1f", "title": "Fiscal Independence", "orient": "bottom", "offset": -55.3}}, "x2": {"datum": 0.5859}}},
  {"data": {"name": "affected"}, "mark": {"type": "circle", "size": 64, "color": "black", "opacity": 1},
   "encoding": {"x": {"field": "x", "type": "quantitative", "scale": {"domain": [-0.0279, 0.5859], "range": [58.1, 584.4], "nice": false, "zero": false}, "axis": {"values": [0, 0.2, 0.4], "format": ".1f", "title": "Fiscal Independence", "orient": "bottom", "offset": -55.3}},
    "y": {"field": "y", "type": "quantitative", "scale": {"domain": [-0.32, 6.71], "range": [364.7, 41.3], "nice": false, "zero": false}, "axis": {"values": [0, 2, 4, 6], "format": "d", "title": "Log Affected", "orient": "left", "offset": -58.1}}}},
  {"data": {"values": [{"x":0,"y":2.98},{"x":0.558,"y":4.37}]}, "mark": {"type": "line", "color": "#3366FF", "strokeWidth": 3.5},
   "encoding": {"x": {"field": "x", "type": "quantitative", "scale": {"domain": [-0.0279, 0.5859], "range": [58.1, 584.4], "nice": false, "zero": false}, "axis": {"values": [0, 0.2, 0.4], "format": ".1f", "title": "Fiscal Independence", "orient": "bottom", "offset": -55.3}},
    "y": {"field": "y", "type": "quantitative", "scale": {"domain": [-0.32, 6.71], "range": [364.7, 41.3], "nice": false, "zero": false}, "axis": {"values": [0, 2, 4, 6], "format": "d", "title": "Log Affected", "orient": "left", "offset": -58.1}}}}
 ]}
],
"config": {
  "view": {"stroke": "black", "strokeWidth": 2, "fill": "white"},
  "font": "Liberation Sans",
  "axis": {"grid": false, "domain": false, "labelFont": "Liberation Sans", "labelFontSize": 15, "labelColor": "#4D4D4D", "tickColor": "#333333", "tickSize": 4.5, "tickWidth": 1.1, "labelPadding": 3, "labelFlush": false, "labelOverlap": false, "titleFont": "Liberation Sans", "titleFontSize": 18.8, "titleFontWeight": "normal", "titleColor": "black"},
  "axisX": {"titlePadding": 1},
  "axisY": {"titlePadding": 3},
  "title": {"font": "Liberation Sans", "fontSize": 22.7, "fontWeight": "normal", "color": "black", "anchor": "start", "frame": "group", "baseline": "alphabetic"}
}
}
